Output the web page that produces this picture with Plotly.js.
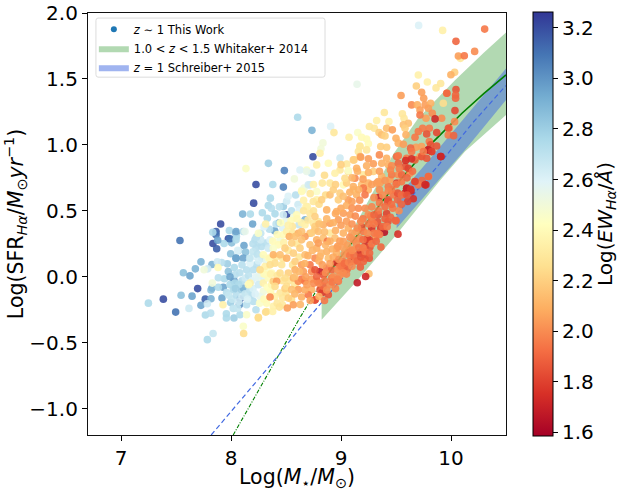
<!DOCTYPE html>
<html>
<head>
<meta charset="utf-8">
<script src="https://cdn.plot.ly/plotly-3.0.1.min.js"></script>
<style>html,body{margin:0;padding:0;background:#fff}#chart{width:618px;height:491px}</style>
</head>
<body>
<div id="chart"></div>
<script>
// Each galaxy: [log stellar mass, log SFR, log EW]
const blueGalaxies = [
[7.906,.40,3.2],[7.864,.343,3.15],[7.864,.318,3.1],[7.976,.288,3.2],[7.836,.252,3.2],[7.87,.212,3.15],[7.536,.275,3.1],[7.697,-.09,3.2],[7.385,-.17,3.2],[7.497,-.268,3.1],[7.766,-.17,3.15],
[8.485,.805,3.05],[8.227,.70,3.2],[8.476,.68,3.05],[8.206,.558,3.2],[8.506,.47,3.2],[8.436,.407,3.0],[8.197,.40,2.95],[8.106,.475,2.9],[8.34,.86,2.8],[8.38,.70,2.75],[8.588,.62,2.72],
[8.606,1.21,2.75],[8.736,1.11,2.9],[8.745,.91,3.2],
[7.249,-.20,2.75],[7.546,-.14,2.85],[7.646,-.147,2.95],[7.567,.03,2.85],[7.627,.007,2.95],[7.676,.06,2.9],[7.727,.113,2.9],[7.827,.093,2.9],[7.727,-.217,2.95],[7.767,-.29,2.75],[7.815,-.276,2.72],[7.958,-.28,2.75],[7.958,-.313,2.75],[8.027,-.313,2.8],[7.818,-.167,2.9],[7.818,-.1,2.85],[7.827,-.086,2.9],[7.918,-.162,2.95],[7.93,-.08,2.95],[7.885,-.08,2.75],[7.94,-.015,2.75],[7.885,-.008,2.72],[7.997,-.195,2.8],
[7.985,.35,2.75],[8.046,.33,2.95],[8.049,.305,2.75],[8.006,.257,2.85],[7.937,.252,2.75],[7.879,.277,2.95],[7.834,.338,2.75],[7.997,.174,2.85],[8.046,.141,2.95],[7.976,.04,2.85],[7.967,.098,2.8],[7.915,.108,2.72],[8.027,-.028,3.0],[7.991,-.06,2.75],[8.037,.015,2.72],
[8.176,.475,2.75],[8.358,.596,2.75],[8.339,.54,2.75],[8.367,.52,2.72],[8.285,.485,2.75],[8.40,.477,2.75],[8.33,.444,2.75],[8.476,.533,2.8],[8.397,.348,2.95],[8.673,.432,2.9],
[8.046,.343,2.95],[8.112,.343,2.72],[7.99,.288,3.1],[8.046,.28,2.75],[8.118,.237,2.95],[8.067,.197,2.72],[8.133,.187,2.85],[8.112,.141,2.95],[8.046,.141,2.95],[8.218,.28,2.72],[8.249,.255,2.72],[8.279,.23,2.72],[8.315,.255,2.72],[8.227,.217,2.72],[8.233,.091,2.72],[8.142,.053,2.72],[8.203,.053,2.72],
[8.203,-.187,2.72],[8.082,-.167,3.15],[8.076,-.212,3.0],[8.142,-.212,2.72],[8.188,-.136,2.72],[8.097,-.104,2.8],[8.021,-.098,2.75],[8.036,-.048,2.75],[7.991,0,2.95],[8.112,-.086,2.9],[8.227,-.25,2.72],[8.082,-.288,2.75],[7.837,-.43,2.68],[7.785,-.477,2.75]
];
const paleGalaxies = [
[7.618,-.24,2.65],[7.876,.113,2.65],[7.788,.06,2.65],[7.755,.053,2.5],[7.83,-.048,2.5],[7.785,-.205,2.65],[8.06,.2,2.6],
[8.906,1.14,2.6],[8.836,1.015,2.5],[8.818,.97,2.5],[8.506,.573,2.65],[8.609,.548,2.65],[8.621,.507,2.6],[8.476,.47,2.65],[8.618,.394,2.68],
[8.27,.28,2.65],[8.339,.217,2.65],[8.355,.28,2.6],[8.446,.28,2.5],[8.203,.154,2.6],[8.173,.103,2.6],[8.249,-.01,2.55],[8.294,-.111,2.5],[8.264,-.149,2.55],
[8.991,.9,2.65],[9.146,1.46,2.55],[9.706,1.906,2.6],[8.688,.81,2.45],[8.733,.785,2.68],[8.718,.697,2.65],[8.657,.659,2.55],[8.627,.81,2.6],[8.688,.798,2.55],[8.576,.742,2.5],[8.642,.654,2.45],[8.664,.672,2.5],[8.703,.697,2.65],[8.127,.343,2.55]
];
const extraBlueGalaxies = [
[7.96,-.12,2.72],[7.98,-.14,2.68],[8.01,-.17,2.68],[8.05,-.14,2.72],[8.07,-.19,2.65],[8.02,-.24,2.7],[8.06,-.24,2.68],[8.1,-.15,2.65],[8.13,-.13,2.68],[8.15,-.17,2.62],[8.17,-.1,2.7],[8.2,-.09,2.62],[8.22,-.13,2.6],[8.25,-.06,2.65],[8.1,-.03,2.72],[8.07,-.06,2.75],[8.04,-.09,2.8],[8.13,-.01,2.65],[8.16,.01,2.7],[8.08,.03,2.72],[8.19,-.03,2.6],[8.23,0,2.58],[8.27,.02,2.55],[8.3,-.02,2.6],[8.03,.07,2.75],[8.1,.09,2.72],[8.17,.14,2.68],[8.2,.19,2.68],[8.24,.17,2.7],[8.28,.14,2.68],[8.32,.12,2.55],[8.25,.12,2.62],[8.2,.25,2.72],[8.23,.3,2.7],[8.27,.33,2.68],[8.35,.36,2.72],[8.3,.38,2.6],[8.41,.4,2.7],[8.47,.37,2.6],[8.5,.42,2.55],[8.44,.53,2.7],[8.55,.5,2.72],[8.52,.61,2.6],[8.57,.45,2.5]
];
const yellowGalaxies = [
[7.882,.07,2.4],[7.927,-.212,2.35],[8.136,.82,2.45],[8.936,1.093,2.3],[8.315,.40,2.35],[8.546,.427,2.4],[8.558,.381,2.3],[8.694,.533,2.35],[8.718,.482,2.3],[8.643,.646,2.4],[8.779,.583,2.35],
[8.249,.33,2.45],[8.476,.318,2.4],[8.324,.053,2.45],[8.37,.028,2.4],[8.173,-.048,2.35],[8.294,-.048,2.35],[8.158,-.06,2.4],[8.385,-.225,2.35],[8.467,-.212,2.3],[8.324,-.263,2.3],[8.142,-.288,2.45],
[8.673,.394,2.35],[8.749,.406,2.3],[8.794,.419,2.3],[8.597,.47,2.4],[8.506,.343,2.35],[8.43,.242,2.4],[8.385,.217,2.45],[8.339,.141,2.45],[8.294,.167,2.4],[8.309,.078,2.35],[8.339,-.01,2.4],[8.446,-.124,2.3],[8.324,-.2,2.4],[8.112,-.376,2.45],[8.379,-.263,2.35],[8.682,.533,2.35],
[8.9,.331,2.3],[8.748,.571,2.3],[9.066,.798,2.3],[8.991,.81,2.3],[8.945,.785,2.35],[8.885,.861,2.4],[8.809,.937,2.35],[8.779,.848,2.35],[8.9,.71,2.3],[8.779,.646,2.45],
[9.703,1.53,2.35],[9.785,1.477,2.35],[9.906,1.465,2.3],[9.864,1.432,2.3],[9.394,1.245,2.3],[9.558,1.235,2.3],[9.573,1.202,2.3],[9.324,1.184,2.35],[9.436,1.177,2.35],[9.258,1.139,2.3],[9.303,1.126,2.3],[9.152,1.093,2.45],[9.073,1.058,2.35],[9.233,1.045,2.4],[9.188,1.058,2.4],[9.249,1.008,2.4],[9.173,.992,2.35],[9.233,.962,2.3],[9.158,.95,2.3],[9.052,.854,2.3],[9.067,.806,2.45],[9.203,.773,2.3],[9.021,.697,2.4],
[10.094,2.085,2.35],[9.924,1.868,2.35],[10.085,1.656,2.3],[9.172,.987,2.3],[9.93,1.316,2.25]
];
const extraYellowGalaxies = [
[8.26,-.2,2.45],[8.3,-.17,2.4],[8.36,-.11,2.4],[8.4,-.15,2.35],[8.42,-.2,2.3],[8.47,-.16,2.3],[8.5,-.12,2.28],[8.33,-.08,2.42],[8.37,-.06,2.38],[8.3,.02,2.4],[8.36,.02,2.35],[8.42,.01,2.3],[8.47,-.03,2.28],[8.35,.14,2.38],[8.41,.15,2.32],[8.47,.14,2.3],[8.38,.27,2.4],[8.42,.32,2.4],[8.48,.26,2.35],[8.52,.2,2.3],[8.45,.41,2.42],[8.52,.39,2.35],[8.56,.33,2.3],[8.6,.25,2.3],[8.64,.41,2.35],[8.6,.44,2.38],[8.66,.5,2.3],[8.7,.43,2.3],[8.75,.5,2.28],[8.8,.55,2.25],[8.66,.58,2.35],[8.72,.63,2.3],[8.75,.7,2.35],[8.83,.71,2.3],[8.86,.62,2.25],[8.56,.09,2.28],[8.62,.15,2.28],[8.53,-.03,2.28],[8.58,-.06,2.3],[8.55,-.17,2.25],[8.44,-.23,2.28]
];
const orangeGalaxies = [
[8.53,.305,2.1],[8.612,.33,2.1],[8.552,.255,2.2],[8.385,.167,2.1],[8.264,.053,2.25],[8.385,-.035,2.2],[8.415,-.035,2.05],[8.491,-.09,2.2],[8.355,-.154,2.0],[8.512,-.237,2.05],[8.567,-.212,2.05],[8.249,-.308,2.25],
[8.718,.33,2.15],[8.673,.305,2.05],[8.764,.356,2.1],[8.642,.28,2.15],[8.779,.28,2.1],[8.718,.242,2.15],[8.627,.217,2.2],[8.567,.179,2.2],[8.673,.167,2.15],[8.491,.217,2.2],[8.446,.167,2.15],[8.506,.141,2.1],[8.582,.116,2.2],[8.40,.103,2.25],[8.461,.091,2.28],[8.718,.091,1.95],[8.764,.141,2.0],[8.642,.091,2.05],[8.582,.053,2.1],[8.658,.04,2.05],[8.733,.04,2.0],[8.521,.028,2.2],[8.446,.028,2.25],[8.567,-.01,2.1],[8.642,-.018,1.95],[8.612,-.035,2.0],[8.673,-.035,1.95],[8.733,-.018,2.05],[8.491,-.01,2.25],[8.40,-.073,2.25],[8.506,-.073,2.25],[8.612,-.098,2.05],[8.642,-.154,2.1],[8.733,-.098,2.1],
[8.355,.091,2.25],[8.521,-.162,2.2],[8.552,-.098,2.15],[8.115,-.43,2.25],[8.249,-.313,2.25],[8.315,-.268,2.25],[8.642,.343,2.15],[8.582,.305,2.15],
[9.254,.023,2.15],[8.96,.179,2.1],[8.87,.192,2.1],[8.809,.154,2.1],[8.779,.217,2.1],[8.839,.293,2.15],[8.763,.457,2.2],[8.763,.381,2.2],[8.839,.394,2.1],[8.9,.406,2.05],[8.976,.432,2.05],[9.021,.482,2.05],[8.96,.495,2.1],[8.87,.507,2.1],[8.976,.583,2.2],[8.9,.621,2.15],[9.066,.583,2.05],[9.142,.621,2.1],[9.112,.204,2.05],[9.066,.179,2.0],
[9.315,.298,2.05],[9.142,.343,2.05],[9.066,.369,2.1],[9.082,.47,2.05],[9.158,.52,2.0],[9.021,.331,2.1],[9.112,.28,2.0],[9.021,.268,2.05],[8.945,.293,2.15],[8.96,.217,2.05],[9.076,.199,2.0],[8.885,.141,2.15],[8.794,.255,2.05],[8.733,.331,2.2],[8.794,.343,2.15],[8.824,.583,2.2],
[9.248,.47,2.0],[9.527,.5,2.0],[9.445,.735,2.05],[9.521,.773,2.0],[9.627,.785,2.0],[9.797,.76,2.0],[9.354,.71,2.05],[9.324,.71,2.05],[9.248,.659,2.1],[9.188,.697,2.15],[9.112,.659,2.15],[9.051,.71,2.2],[8.991,.634,2.2],[9.112,.886,2.2],[9.173,.911,2.15],
[9.685,1.447,2.2],[9.733,1.399,2.05],[9.546,1.374,2.05],[9.961,1.391,2.0],[9.752,1.354,2.05],[9.642,1.303,2.0],[9.694,1.303,2.1],[9.764,1.303,2.05],[9.815,1.316,2.1],[9.718,1.265,2.05],[9.794,1.278,2.05],[9.773,1.202,2.05],[9.915,1.202,2.0],[9.83,1.24,2.0],[9.612,1.164,2.15],[9.567,1.152,2.15],[9.415,1.126,2.15],[9.467,1.114,2.05],[9.582,1.126,2.2],[9.346,1.093,2.2],[9.37,1.076,2.15],[9.4,1.068,2.2],[9.5,1.05,2.1],[9.591,1.076,2.1],[9.521,1.013,2.1],[9.361,.987,2.2],[9.415,.982,2.2],[9.567,1.005,2.05],[9.733,.987,2.05],[9.682,.982,2.05],[9.118,.886,2.2],[9.179,.907,2.05],[9.249,.894,2.05],[9.349,.924,2.0],[9.415,.899,2.1],[9.718,.912,2.05],[9.294,.856,2.05],[9.233,.841,2.1],[9.37,.861,2.1],[9.43,.849,2.1],[9.461,.841,2.0],[9.142,.823,2.1],[9.294,.798,2.2],[9.37,.76,2.1],[9.127,.747,2.0],[9.036,.747,2.25],[9.249,.71,2.1],[9.339,.722,2.05],[9.112,.684,2.1],
[10.215,1.709,2.0],[10.067,1.674,2.05],[10.033,1.55,2.2],[9.999,1.532,2.1],[10.033,1.176,2.0],[9.985,1.128,2.0]
];
const redGalaxies = [
[8.764,-.174,1.8],[8.785,-.035,1.9],[8.703,-.136,1.95],[8.809,-.098,1.85],
[9.148,-.046,1.68],[9.224,.002,1.72],[9.176,.073,1.88],[9.363,.225,1.9],[9.518,.323,1.75],[9.239,.285,1.7],[9.218,.23,1.75],[9.257,.28,1.8],[9.263,.225,1.85],[9.218,.141,1.8],[9.257,.141,1.85],[9.173,.179,1.75],[9.203,.116,1.9],[9.088,.114,1.65],[8.954,.108,1.75],[8.809,.04,1.68],[9.027,.063,1.8],[8.985,.073,1.95],[9.057,.058,1.9],[8.976,-.035,1.95],[8.915,-.01,1.95],[8.885,-.136,1.85],[8.827,-.121,1.78],[8.763,-.177,1.85],[8.839,-.073,1.9],[8.839,.015,1.85],[8.779,0,1.9],[8.763,.053,1.85],[8.87,.066,1.95],[8.915,.053,1.9],[9.021,.116,1.95],
[9.218,.621,1.95],[9.345,.603,1.72],[9.43,.583,1.85],[9.476,.621,1.95],[9.5,.427,1.9],[9.415,.48,1.8],[9.339,.47,1.85],[9.333,.417,1.85],[9.279,.432,1.95],[9.188,.376,1.85],[9.279,.369,1.75],[9.36,.369,1.8],[9.394,.338,1.65],[9.203,.343,1.95],[8.876,.268,1.95],
[9.906,.911,1.68],[9.772,.697,1.75],[9.736,.73,1.9],[9.672,.722,1.9],[9.703,.697,1.95],[9.597,.667,1.68],[9.636,.651,1.7],[9.582,.634,1.75],[9.657,.591,1.75],[9.606,.571,1.8],[9.497,.424,1.9],[9.427,.419,1.85],[9.424,.571,1.85],[9.515,.583,1.9],[9.515,.634,1.85],[9.46,.659,1.95],[9.582,.836,1.85],[9.506,.911,1.9],[9.597,.899,1.95],[9.672,.886,1.9],[9.733,.911,1.85],[9.779,.899,1.85],[9.794,.962,1.75],[9.824,.949,1.8],
[9.855,1.197,1.72],[9.718,1.227,1.95],[9.742,1.126,1.95],[9.803,1.126,1.95],[9.976,1.126,1.85],[9.703,1.101,1.95],[9.87,1.093,1.82],[9.779,1.083,1.85],[9.673,1.058,1.95],[9.633,.975,1.9],[9.803,1.025,1.95],[9.815,1.0,1.85],[9.87,.992,1.85],[9.794,.962,1.7],[9.642,.95,1.95],[9.521,.917,1.95],[9.588,.881,1.75],[9.642,.894,1.75],[9.749,.95,1.95],[9.824,.95,1.8],[9.909,.912,1.72],[9.521,.861,1.9],[9.612,.823,1.8],[9.461,.773,1.95],[9.552,.773,1.9],[9.794,.76,1.9],[9.673,.722,1.8],[9.764,.697,1.72],[9.597,.672,1.7],[9.633,.664,1.75],[9.43,.684,1.95],[9.506,.71,1.8],[9.203,.672,1.95],
[10.306,1.878,1.95],[10.045,1.785,1.9],[10.121,1.676,1.95],[10.045,1.419,1.85],[9.963,1.391,1.9],[10.042,1.378,1.9],[10.042,1.353,1.9],[10.036,1.26,1.82],[9.975,1.075,1.95],[10.024,1.07,1.9]
];
const extraOrangeGalaxies = [
[8.58,0,2.15],[8.62,.04,2.12],[8.67,.1,2.1],[8.7,.16,2.1],[8.74,.2,2.12],[8.8,.12,2.1],[8.83,.09,2.05],[8.86,.03,2.0],[8.9,.1,2.05],[8.93,.15,2.08],[8.98,.13,2.02],[9.03,.17,2.02],[9.06,.24,2.05],[9.1,.33,2.05],[9.14,.25,2.0],[9.17,.29,2.0],[9.2,.22,1.98],[8.82,.18,2.12],[8.86,.24,2.12],[8.9,.27,2.1],[8.92,.21,2.1],[8.95,.35,2.1],[8.99,.27,2.05],[8.85,.34,2.15],[8.8,.4,2.15],[8.87,.44,2.12],[8.93,.41,2.1],[9.0,.39,2.05],[9.05,.42,2.05],[9.1,.4,2.02],[9.13,.46,2.0],[9.2,.44,1.95],[9.25,.4,1.95],[9.0,.52,2.08],[9.05,.54,2.1],[9.1,.57,2.05],[9.17,.58,2.02],[9.22,.52,2.0],[9.28,.53,1.98],[9.3,.6,2.0],[9.35,.56,1.95],[9.02,.61,2.15],[9.08,.64,2.1],[9.16,.66,2.1],[9.2,.74,2.05],[9.28,.7,2.05],[9.25,.79,2.1],[9.15,.8,2.1],[8.93,.66,2.2],[8.85,.77,2.25],[8.95,.7,2.2],[9.0,.85,2.2],[9.1,.75,2.12],[8.68,0,2.05],[8.75,-.05,2.0],[8.8,-.05,1.98],[8.72,-.18,2.05],[8.67,-.1,2.08],[8.63,-.21,2.12],[8.58,-.13,2.12],[8.69,-.06,2.05],[8.9,-.06,2.0],[8.95,-.09,1.98],[8.85,-.03,1.95],[8.93,0,2.0],[8.99,.01,2.0],[9.05,.02,1.98],[9.1,.08,2.0],[9.13,.12,1.98],[8.8,-.15,2.1],[8.85,-.18,1.95],[9.3,.33,1.95],[9.35,.32,1.95],[9.4,.53,1.92],[9.43,.65,1.98],[9.38,.62,2.0],[9.35,.66,2.0],[9.4,.73,2.02],[9.35,.8,2.05],[9.5,.7,1.95],[9.55,.72,1.95],[9.45,.81,1.98],[9.53,.82,1.95],[9.6,.75,1.9],[9.65,.8,1.92],
[8.97,.05,2.0],[9.0,.08,1.95],[9.03,.1,1.92],[9.08,.16,1.95],[9.12,.16,1.92],[9.15,.12,1.9],[9.18,.15,1.85],[9.22,.19,1.95],[9.26,.18,1.9],[9.28,.25,1.95],[9.32,.27,1.9],[9.33,.33,1.95],[9.38,.38,1.9],[9.42,.38,1.95],[9.45,.45,1.9],[9.47,.52,1.95],[9.4,.44,1.88],[9.3,.4,1.95],[9.24,.33,2.0],[9.2,.28,1.92],[9.16,.22,1.95],[9.07,.11,1.98],[9.02,.03,2.0],[8.92,-.04,1.95],[8.87,-.1,2.0],[8.97,-.02,1.98],[9.34,.5,1.95],[9.27,.46,1.98],[9.55,.62,1.92],[9.6,.62,1.85],[9.55,.55,1.9],[9.46,.55,1.92],[9.3,.47,1.9],[9.1,.52,2.02],[9.18,.42,1.98],[9.15,.37,2.0],[9.02,.22,2.05],[8.97,.23,2.05],[9.08,.3,2.02],[8.95,.48,2.08],[9.1,.2,2.0]
];

const whitakerMass = [8.824,9.0,9.2,9.4,9.67,9.84,10.1,10.3,10.5];
const whitakerSFR = [-0.04,0.15,0.37,0.6,0.86,1.025,1.24,1.39,1.53];
const whitakerExtrapMass = [8.02,8.42,8.627,8.824];
const whitakerExtrapSFR = [-1.2,-0.608,-0.31,-0.04];
const whitakerUpperMass = [8.824,9.0,9.2,9.476,9.7,10.036,10.3,10.5];
const whitakerUpperSFR = [-0.03,0.2,0.5,0.93,1.2,1.49,1.7,1.853];
const whitakerLowerMass = [8.824,9.142,9.49,9.9,10.127,10.5];
const whitakerLowerSFR = [-0.326,-0.035,0.306,0.73,0.949,1.227];
const schreiberMass = [7.82,8.42,8.627,9.28,9.9,10.2,10.5];
const schreiberSFR = [-1.2,-0.608,-0.389,0.255,0.86,1.17,1.45];
const schreiberUpperMass = [9.506,9.8,10.5];
const schreiberUpperSFR = [0.6,0.886,1.58];
const schreiberLowerMass = [9.506,10.127,10.5];
const schreiberLowerSFR = [0.368,0.962,1.34];
const xTicks = [7,8,9,10];
const yTicks = [-1,-0.5,0,0.5,1,1.5,2];
const ewTicks = [1.6,1.8,2.0,2.2,2.4,2.6,2.8,3.0,3.2];
const rdYlBu = ['#a50026','#d73027','#f46d43','#fdae61','#fee090','#ffffbf','#e0f3f8','#abd9e9','#74add1','#4575b4','#313695'];

const galaxies = [...blueGalaxies,...paleGalaxies,...extraBlueGalaxies,...yellowGalaxies,...extraYellowGalaxies,...orangeGalaxies,...redGalaxies,...extraOrangeGalaxies];
const font = 'DejaVu Sans';
const textSize = 20;
const colorscale = rdYlBu.map((c,i)=>[i/(rdYlBu.length-1),c]);

const traces = [
 {x:[null],y:[null],mode:'markers',name:'<i>z</i> ∼ 1 This Work',marker:{color:'#1f77b4',size:6}},
 {x:[...whitakerUpperMass,...[...whitakerLowerMass].reverse()],y:[...whitakerUpperSFR,...[...whitakerLowerSFR].reverse()],
  mode:'lines',fill:'toself',fillcolor:'rgba(0,128,0,0.3)',line:{width:0},name:'1.0 &lt; <i>z</i> &lt; 1.5 Whitaker+ 2014'},
 {x:[...schreiberUpperMass,...[...schreiberLowerMass].reverse()],y:[...schreiberUpperSFR,...[...schreiberLowerSFR].reverse()],
  mode:'lines',fill:'toself',fillcolor:'rgba(65,105,225,0.5)',line:{width:0},name:'<i>z</i> = 1 Schreiber+ 2015'},
 {x:whitakerExtrapMass,y:whitakerExtrapSFR,mode:'lines',line:{color:'green',width:1.1,dash:'4px,1.5px,1px,1.5px'},showlegend:false},
 {x:whitakerMass,y:whitakerSFR,mode:'lines',line:{color:'green',width:1.6},showlegend:false},
 {x:schreiberMass,y:schreiberSFR,mode:'lines',line:{color:'royalblue',width:1.2,dash:'5px,3px'},showlegend:false},
 {x:galaxies.map(g=>g[0]),y:galaxies.map(g=>g[1]),mode:'markers',showlegend:false,cliponaxis:false,
  marker:{size:7.6,opacity:0.9,color:galaxies.map(g=>g[2]),colorscale:colorscale,cmin:1.585,cmax:3.263,line:{width:0},
   colorbar:{x:1.0646,xanchor:'left',xref:'paper',y:0.5,yanchor:'middle',len:1.005,lenmode:'fraction',thickness:20,thicknessmode:'pixels',
    outlinecolor:'#000',outlinewidth:1,ticks:'outside',ticklen:5,tickwidth:1,tickcolor:'#000',tickvals:ewTicks,ticktext:ewTicks.map(v=>v.toFixed(1)),
    tickfont:{family:font,size:textSize,color:'#000'},xpad:0,ypad:0}}}
];

const axis = {showgrid:false,zeroline:false,showline:true,linecolor:'#111',linewidth:1.2,mirror:true,ticks:'outside',ticklen:5,tickwidth:1,tickcolor:'#000',tickfont:{family:font,size:textSize,color:'#000'}};
const layout = {
 width:618,height:491,margin:{l:88,r:112,t:13,b:56,pad:0},paper_bgcolor:'#fff',plot_bgcolor:'#fff',font:{family:font,color:'#000'},
 xaxis:{...axis,range:[6.7,10.5],tickvals:xTicks,ticktext:xTicks.map(String),
  title:{text:'Log(<i>M</i><sub>⋆</sub>/<i>M</i><sub>⊙</sub>)',font:{family:font,size:20.5,color:'#000'},standoff:2}},
 yaxis:{...axis,range:[-1.2,2.0],tickvals:yTicks,tickformat:'.1f',
  title:{text:'Log(SFR<sub><i>Hα</i></sub>/<i>M</i><sub>⊙</sub><i>yr</i><sup>−1</sup>)',font:{family:font,size:20.5,color:'#000'},standoff:0}},
 legend:{x:0.014,y:0.996,xanchor:'left',yanchor:'top',bgcolor:'rgba(0,0,0,0)',borderwidth:0,font:{family:font,size:11.5,color:'#000'},itemwidth:30,traceorder:'normal',tracegroupgap:0},
 shapes:[{type:'path',xref:'paper',yref:'paper',layer:'above',line:{color:'#dcdcdc',width:1},fillcolor:'rgba(0,0,0,0)',
  path:'M 0.024 0.988 L 0.562 0.988 Q 0.567 0.988 0.567 0.982 L 0.567 0.854 Q 0.567 0.848 0.562 0.848 L 0.024 0.848 Q 0.019 0.848 0.019 0.854 L 0.019 0.982 Q 0.019 0.988 0.024 0.988 Z'}],
 annotations:[{xref:'paper',yref:'paper',x:(606-88)/418,y:0.5,xanchor:'center',yanchor:'middle',textangle:-90,showarrow:false,
  text:'Log(<i>EW</i><sub><i>Hα</i></sub>/<i>Å</i>)',font:{family:font,size:20,color:'#000'}}]
};
Plotly.newPlot('chart',traces,layout,{displayModeBar:false,responsive:false});
</script>
</body>
</html>
